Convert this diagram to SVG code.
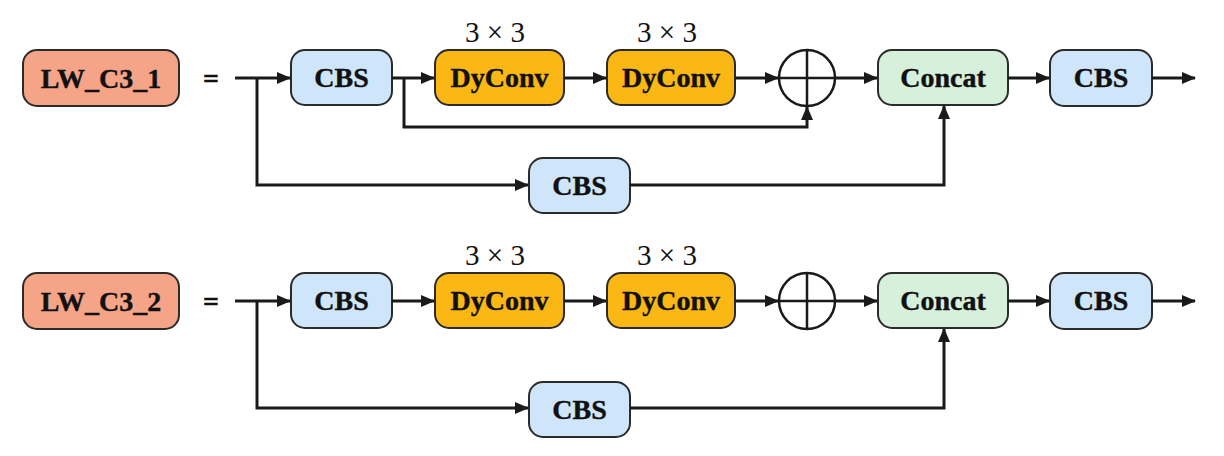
<svg xmlns="http://www.w3.org/2000/svg" width="1224" height="456" viewBox="0 0 1224 456">
<style>
.box{stroke:#2b2b2b;stroke-width:2}
.lw{fill:#F6A488}
.cbs{fill:#CFE6FA}
.dy{fill:#FBB714}
.cat{fill:#D6F0DC}
.lbl{font-family:"Liberation Serif","Times New Roman",serif;font-weight:bold;font-size:28px;fill:#111;stroke:#111;stroke-width:0.4;text-anchor:middle}
.k{font-family:"Liberation Serif","Times New Roman",serif;font-size:29px;fill:#111;text-anchor:middle}
.ln{fill:none;stroke:#1a1a1a;stroke-width:3}
.sum{fill:#fff;stroke:#1a1a1a;stroke-width:2.5}
</style>
<defs>
<marker id="ah" markerUnits="userSpaceOnUse" markerWidth="14" markerHeight="12" refX="13" refY="6" orient="auto">
<path d="M0,0 L14,6 L0,12 Z" fill="#1a1a1a"/>
</marker>
</defs>
<rect width="1224" height="456" fill="#fff"/>

<!-- Row 1 -->
<g id="lw1"><rect class="box lw" x="23" y="50" width="156" height="56" rx="14"/><text class="lbl" x="101" y="88">LW_C3_1</text></g>
<g id="eq1"><text class="lbl" x="211" y="88">=</text></g>
<g id="cbs1a"><rect class="box cbs" x="291" y="50" width="101" height="55" rx="14"/><text class="lbl" x="341.5" y="87">CBS</text></g>
<g id="dy1a"><text class="k" x="495" y="42">3 × 3</text><rect class="box dy" x="435" y="50" width="129" height="55" rx="14"/><text class="lbl" x="499.5" y="87">DyConv</text></g>
<g id="dy1b"><text class="k" x="667" y="42">3 × 3</text><rect class="box dy" x="607" y="50" width="128" height="55" rx="14"/><text class="lbl" x="671" y="87">DyConv</text></g>
<g id="sum1"><circle class="sum" cx="807" cy="78" r="28"/><path class="ln" style="stroke-width:2.5" d="M779,78 H835 M807,50 V106"/></g>
<g id="cat1"><rect class="box cat" x="878" y="50" width="130" height="55" rx="14"/><text class="lbl" x="943" y="87">Concat</text></g>
<g id="cbs1c"><rect class="box cbs" x="1050" y="50" width="102" height="56" rx="14"/><text class="lbl" x="1101" y="87">CBS</text></g>
<g id="cbs1b"><rect class="box cbs" x="529" y="158" width="101" height="55" rx="14"/><text class="lbl" x="579.5" y="195">CBS</text></g>

<!-- Row 2 -->
<g id="lw2"><rect class="box lw" x="23" y="273" width="156" height="56" rx="14"/><text class="lbl" x="101" y="311">LW_C3_2</text></g>
<g id="eq2"><text class="lbl" x="211" y="311">=</text></g>
<g id="cbs2a"><rect class="box cbs" x="291" y="273" width="101" height="55" rx="14"/><text class="lbl" x="341.5" y="310">CBS</text></g>
<g id="dy2a"><text class="k" x="495" y="265">3 × 3</text><rect class="box dy" x="435" y="273" width="129" height="55" rx="14"/><text class="lbl" x="499.5" y="310">DyConv</text></g>
<g id="dy2b"><text class="k" x="667" y="265">3 × 3</text><rect class="box dy" x="607" y="273" width="128" height="55" rx="14"/><text class="lbl" x="671" y="310">DyConv</text></g>
<g id="sum2"><circle class="sum" cx="807" cy="301" r="28"/><path class="ln" style="stroke-width:2.5" d="M779,301 H835 M807,273 V329"/></g>
<g id="cat2"><rect class="box cat" x="878" y="273" width="130" height="55" rx="14"/><text class="lbl" x="943" y="310">Concat</text></g>
<g id="cbs2c"><rect class="box cbs" x="1050" y="273" width="102" height="56" rx="14"/><text class="lbl" x="1101" y="310">CBS</text></g>
<g id="cbs2b"><rect class="box cbs" x="529" y="382" width="101" height="55" rx="14"/><text class="lbl" x="579.5" y="419">CBS</text></g>

<g id="connectors">
<path class="ln" marker-end="url(#ah)" d="M235,78 H290"/>
<path class="ln" marker-end="url(#ah)" d="M257,78 V185 H528"/>
<path class="ln" marker-end="url(#ah)" d="M392,78 H434"/>
<path class="ln" marker-end="url(#ah)" d="M404,78 V127 H807 V107"/>
<path class="ln" marker-end="url(#ah)" d="M564,78 H606"/>
<path class="ln" marker-end="url(#ah)" d="M735,78 H778"/>
<path class="ln" marker-end="url(#ah)" d="M835,78 H877"/>
<path class="ln" marker-end="url(#ah)" d="M1008,78 H1049"/>
<path class="ln" marker-end="url(#ah)" d="M1152,78 H1195"/>
<path class="ln" marker-end="url(#ah)" d="M630,185 H944 V106"/>

<path class="ln" marker-end="url(#ah)" d="M235,301 H290"/>
<path class="ln" marker-end="url(#ah)" d="M257,301 V408 H528"/>
<path class="ln" marker-end="url(#ah)" d="M392,301 H434"/>
<path class="ln" marker-end="url(#ah)" d="M564,301 H606"/>
<path class="ln" marker-end="url(#ah)" d="M735,301 H778"/>
<path class="ln" marker-end="url(#ah)" d="M835,301 H877"/>
<path class="ln" marker-end="url(#ah)" d="M1008,301 H1049"/>
<path class="ln" marker-end="url(#ah)" d="M1152,301 H1195"/>
<path class="ln" marker-end="url(#ah)" d="M630,408 H944 V329"/>
</g>
</svg>
